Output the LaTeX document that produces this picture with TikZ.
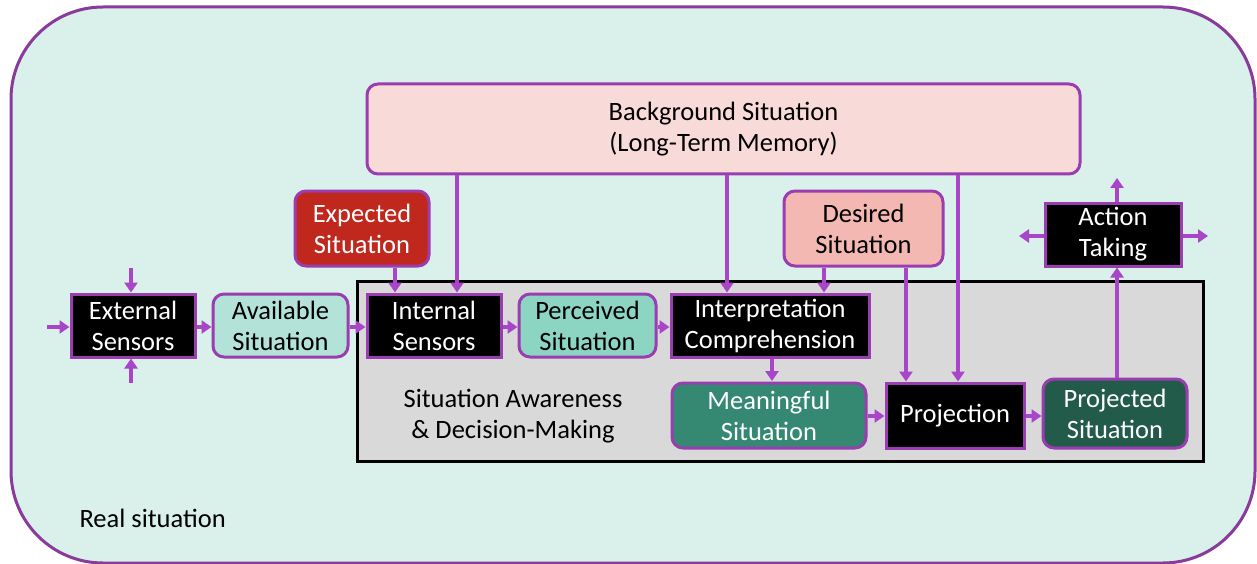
\documentclass[tikz,border=0pt]{standalone}
\usepackage{fontspec}
\setmainfont{Carlito}
\usetikzlibrary{arrows.meta}
\definecolor{outerfill}{HTML}{DAF0EB}
\definecolor{outerline}{HTML}{8A3A9A}
\definecolor{boxline}{HTML}{9A3DB0}
\definecolor{arrowc}{HTML}{A845C8}
\definecolor{bgfill}{HTML}{F8DBD9}
\definecolor{expfill}{HTML}{C0281E}
\definecolor{desfill}{HTML}{F4B8B2}
\definecolor{availfill}{HTML}{B3E3D8}
\definecolor{percfill}{HTML}{8DD5C3}
\definecolor{meanfill}{HTML}{358872}
\definecolor{projfill}{HTML}{235B4B}
\definecolor{grayfill}{HTML}{D9D9D9}
\tikzset{
  txt/.style={font=\fontsize{26.5}{31}\selectfont},
  box/.style={txt, draw=boxline, line width=3pt, minimum height=63pt, align=center, inner sep=0pt},
  blackbox/.style={box, fill=black, text=white},
  rbox/.style={box, rounded corners=11pt},
  arr/.style={draw=arrowc, line width=3.6pt, -{Triangle[length=10pt,width=13pt]}},
}
\begin{document}
\begin{tikzpicture}[x=1pt,y=-1pt]
\useasboundingbox (0,0) rectangle (1257,564);
% outer
\draw[fill=outerfill, draw=outerline, line width=3pt, rounded corners=92pt] (11,7) rectangle (1255,563);
% gray box
\draw[fill=grayfill, draw=black, line width=3pt] (357,281) rectangle (1203,461);
\node[txt, align=center] (sa) at (513,416) {Situation Awareness\\\& Decision-Making};
\node[txt, anchor=west] (real) at (76,518) {Real situation};

% nodes
\node[rbox, fill=bgfill, minimum width=713pt, minimum height=90pt] (bg) at (723.5,129) {Background Situation\\(Long-Term Memory)};
\node[rbox, fill=expfill, text=white, minimum width=134pt, minimum height=75pt] (exp) at (362,228.5) {Expected\\Situation};
\node[rbox, fill=desfill, minimum width=159pt, minimum height=75pt] (des) at (863.5,228.5) {Desired\\Situation};
\node[blackbox, minimum width=124pt] (ext) at (133,325.5) {External\\Sensors};
\node[rbox, fill=availfill, minimum width=135pt] (avail) at (280.5,325.5) {Available\\Situation};
\node[blackbox, minimum width=134pt] (int) at (434,325.5) {Internal\\Sensors};
\node[rbox, fill=percfill, minimum width=137pt] (perc) at (587.5,325.5) {Perceived\\Situation};
\node[blackbox, minimum width=198pt] (interp) at (770,325.5) {Interpretation\\Comprehension};
\node[rbox, fill=meanfill, text=white, minimum width=194pt, minimum height=65pt] (mean) at (769,415.5) {Meaningful\\Situation};
\node[blackbox, minimum width=138pt, minimum height=65pt] (proj) at (955,415.5) {Projection};
\node[rbox, fill=projfill, text=white, minimum width=144pt, minimum height=69pt] (projd) at (1115,413.5) {Projected\\Situation};
\node[blackbox, minimum width=136pt] (act) at (1113,234.5) {Action\\Taking};

% free ends
\coordinate (eL) at (47,327);
\coordinate (eT) at (131,268);
\coordinate (eB) at (131,383);
\coordinate (aT) at (1117,178);
\coordinate (aL) at (1019,236);
\coordinate (aR) at (1208,236);

% connectors
\draw[arr] (eL) -- (eL -| ext.west);
\draw[arr] (eT) -- (eT |- ext.north);
\draw[arr] (eB) -- (eB |- ext.south);
\draw[arr] (ext.east |- 0,327) -- (avail.west |- 0,327);
\draw[arr] (avail.east |- 0,327) -- (int.west |- 0,327);
\draw[arr] (int.east |- 0,327) -- (perc.west |- 0,327);
\draw[arr] (perc.east |- 0,327) -- (interp.west |- 0,327);
\draw[arr] (exp.south -| 395,0) -- (int.north -| 395,0);
\draw[arr] (bg.south -| 457,0) -- (int.north -| 457,0);
\draw[arr] (bg.south -| 727,0) -- (interp.north -| 727,0);
\draw[arr] (des.south -| 824,0) -- (interp.north -| 824,0);
\draw[arr] (des.south -| 906,0) -- (proj.north -| 906,0);
\draw[arr] (bg.south -| 958,0) -- (proj.north -| 958,0);
\draw[arr] (interp.south -| 772,0) -- (772,381);
\draw[arr] (mean.east |- 0,416) -- (proj.west |- 0,416);
\draw[arr] (proj.east |- 0,416) -- (projd.west |- 0,416);
\draw[arr] (projd.north -| 1117,0) -- (act.south -| 1117,0);
\draw[arr] (act.north -| 1117,0) -- (aT);
\draw[arr] (act.west |- aL) -- (aL);
\draw[arr] (act.east |- aR) -- (aR);
\end{tikzpicture}
\end{document}
